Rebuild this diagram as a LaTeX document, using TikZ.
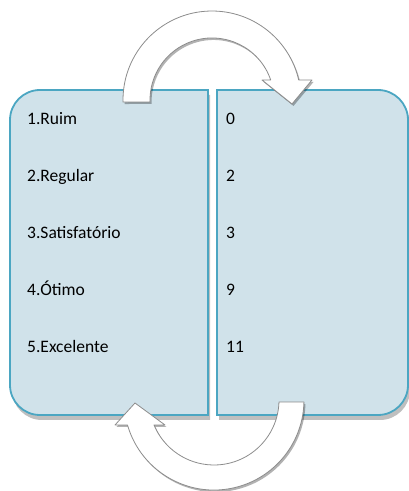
\documentclass[tikz,border=0pt]{standalone}
\usepackage{fontspec}
\setmainfont{Carlito}
\usetikzlibrary{shadows}
\definecolor{boxfill}{HTML}{D0E2EA}
\definecolor{boxline}{HTML}{4BA6C2}
\definecolor{arrline}{HTML}{8C8C8C}
\tikzset{
  panel/.style={fill=boxfill, draw=boxline, line width=1.8pt,
    drop shadow={shadow xshift=2pt, shadow yshift=-5pt, opacity=0.25, fill=black}},
  bentarrow/.style={fill=white, draw=arrline, line width=0.8pt, line join=round,
    drop shadow={shadow xshift=1.5pt, shadow yshift=-2pt, opacity=0.3, fill=black}},
  lbl/.style={anchor=base west, inner sep=0pt, font=\fontsize{17.5}{20}\selectfont}
}
\begin{document}
\begin{tikzpicture}[x=1pt,y=1pt]
\useasboundingbox (0,0) rectangle (409,491);
% boxes
\draw[panel] (208,401) [rounded corners=30pt] -- (10,401) -- (10,76) [sharp corners] -- (208,76) -- cycle;
\draw[panel] (217,401) [rounded corners=30pt] -- (408,401) -- (408,76) [sharp corners] -- (217,76) -- cycle;
% labels
\node[lbl] (l1) at (27,366) {1.Ruim};
\node[lbl] (l2) at (27,309) {2.Regular};
\node[lbl] (l3) at (27,252) {3.Satisfatório};
\node[lbl] (l4) at (27,195) {4.Ótimo};
\node[lbl] (l5) at (27,138) {5.Excelente};
\node[lbl] (v1) at (226,366) {0};
\node[lbl] (v2) at (226,309) {2};
\node[lbl] (v3) at (226,252) {3};
\node[lbl] (v4) at (226,195) {9};
\node[lbl] (v5) at (226,138) {11};
% top curved arrow
\draw[bentarrow] (212,391) ++(181.3:89) arc[start angle=181.3, end angle=13, radius=89]
  -- (312,411) -- (292,387) -- (262,411) -- (270.7,411)
  arc[start angle=18.8, end angle=181.8, radius=62] -- cycle;
% bottom curved arrow
\draw[bentarrow] (214,91) ++(-1.8:65) arc[start angle=-1.8, end angle=-157.4, radius=65]
  -- (165,66) -- (135,88) -- (115,66) -- (127.5,66)
  arc[start angle=-163.9, end angle=-1.3, radius=90] -- cycle;
\end{tikzpicture}
\end{document}
